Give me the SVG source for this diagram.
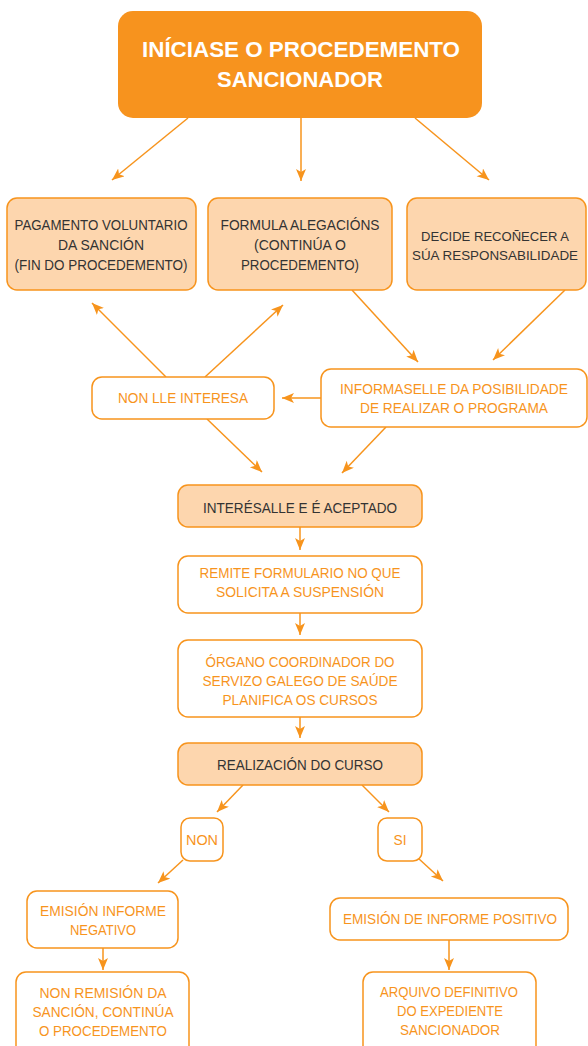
<svg xmlns="http://www.w3.org/2000/svg" width="588" height="1046" viewBox="0 0 588 1046">
<style>
.t{font-family:"Liberation Sans",Arial,sans-serif;font-size:15px;text-anchor:middle}
.s{font-size:13.5px}
.o{fill:#F7941D}
.d{fill:#333333}
.w{fill:#ffffff;stroke:#F7941D;stroke-width:1.5}
.p{fill:#FDD6AE;stroke:#F7941D;stroke-width:1.5}
.c{stroke:#F7941D;stroke-width:1.5;fill:none;marker-end:url(#ah)}
.h{font-family:"Liberation Sans",Arial,sans-serif;font-size:22px;font-weight:bold;fill:#ffffff;text-anchor:middle}
</style>
<defs>
<marker id="ah" markerUnits="userSpaceOnUse" markerWidth="14" markerHeight="12" refX="12" refY="5" orient="auto">
<path d="M0,0 L12,5 L0,10 L3,5 z" fill="#F7941D"/>
</marker>
</defs>
<rect width="588" height="1046" fill="#ffffff"/>
<g id="connectors">
<line class="c" x1="188" y1="118" x2="112" y2="180"/>
<line class="c" x1="301" y1="118" x2="301" y2="181"/>
<line class="c" x1="415" y1="118" x2="489" y2="180"/>
<line class="c" x1="166" y1="377" x2="92" y2="303"/>
<line class="c" x1="205" y1="377" x2="283" y2="305"/>
<line class="c" x1="352" y1="290" x2="418" y2="362"/>
<line class="c" x1="565" y1="290" x2="493" y2="360"/>
<line class="c" x1="321" y1="398" x2="282" y2="398"/>
<line class="c" x1="207" y1="419" x2="262" y2="472"/>
<line class="c" x1="386" y1="427" x2="342" y2="473"/>
<line class="c" x1="300" y1="527" x2="300" y2="550"/>
<line class="c" x1="300" y1="613" x2="300" y2="635"/>
<line class="c" x1="300" y1="717" x2="300" y2="738"/>
<line class="c" x1="243" y1="785" x2="217" y2="812"/>
<line class="c" x1="362" y1="785" x2="389" y2="812"/>
<line class="c" x1="183" y1="860" x2="158" y2="883"/>
<line class="c" x1="418" y1="858" x2="443" y2="881"/>
<line class="c" x1="103" y1="948" x2="103" y2="970"/>
<line class="c" x1="449" y1="940" x2="449" y2="970"/>
</g>
<g id="start">
<rect x="118" y="11" width="364" height="107" rx="15" fill="#F7931E"/>
<text class="h" x="301" y="57" textLength="318" lengthAdjust="spacingAndGlyphs">INÍCIASE O PROCEDEMENTO</text>
<text class="h" x="300" y="87" textLength="166" lengthAdjust="spacingAndGlyphs">SANCIONADOR</text>
</g>
<g id="pagamento">
<rect class="p" x="7" y="198" width="189" height="92" rx="10"/>
<text class="t d" x="101" y="230" textLength="173" lengthAdjust="spacingAndGlyphs">PAGAMENTO VOLUNTARIO</text>
<text class="t d" x="101" y="250" textLength="86" lengthAdjust="spacingAndGlyphs">DA SANCIÓN</text>
<text class="t d" x="101" y="270" textLength="173" lengthAdjust="spacingAndGlyphs">(FIN DO PROCEDEMENTO)</text>
</g>
<g id="formula">
<rect class="p" x="208" y="198" width="184" height="92" rx="10"/>
<text class="t d" x="300" y="230" textLength="159" lengthAdjust="spacingAndGlyphs">FORMULA ALEGACIÓNS</text>
<text class="t d" x="300" y="250" textLength="92" lengthAdjust="spacingAndGlyphs">(CONTINÚA O</text>
<text class="t d" x="300" y="270" textLength="118" lengthAdjust="spacingAndGlyphs">PROCEDEMENTO)</text>
</g>
<g id="decide">
<rect class="p" x="407" y="198" width="179" height="92" rx="10"/>
<text class="t s d" x="495" y="241" textLength="148" lengthAdjust="spacingAndGlyphs">DECIDE RECOÑECER A</text>
<text class="t s d" x="495" y="260" textLength="166" lengthAdjust="spacingAndGlyphs">SÚA RESPONSABILIDADE</text>
</g>
<g id="nonlle">
<rect class="w" x="92" y="377" width="182" height="42" rx="10"/>
<text class="t o" x="183" y="403" textLength="130" lengthAdjust="spacingAndGlyphs">NON LLE INTERESA</text>
</g>
<g id="informaselle">
<rect class="w" x="321" y="369" width="266" height="58" rx="10"/>
<text class="t o" x="454" y="394" textLength="228" lengthAdjust="spacingAndGlyphs">INFORMASELLE DA POSIBILIDADE</text>
<text class="t o" x="454" y="413" textLength="188" lengthAdjust="spacingAndGlyphs">DE REALIZAR O PROGRAMA</text>
</g>
<g id="interesalle">
<rect class="p" x="178" y="485" width="244" height="42" rx="10"/>
<text class="t d" x="300" y="513" textLength="194" lengthAdjust="spacingAndGlyphs">INTERÉSALLE E É ACEPTADO</text>
</g>
<g id="remite">
<rect class="w" x="178" y="556" width="244" height="57" rx="10"/>
<text class="t o" x="300" y="578" textLength="201" lengthAdjust="spacingAndGlyphs">REMITE FORMULARIO NO QUE</text>
<text class="t o" x="300" y="597" textLength="168" lengthAdjust="spacingAndGlyphs">SOLICITA A SUSPENSIÓN</text>
</g>
<g id="organo">
<rect class="w" x="178" y="640" width="244" height="77" rx="10"/>
<text class="t o" x="300" y="667" textLength="189" lengthAdjust="spacingAndGlyphs">ÓRGANO COORDINADOR DO</text>
<text class="t o" x="300" y="686" textLength="195" lengthAdjust="spacingAndGlyphs">SERVIZO GALEGO DE SAÚDE</text>
<text class="t o" x="300" y="705" textLength="155" lengthAdjust="spacingAndGlyphs">PLANIFICA OS CURSOS</text>
</g>
<g id="realizacion">
<rect class="p" x="178" y="743" width="244" height="42" rx="10"/>
<text class="t d" x="300" y="770" textLength="166" lengthAdjust="spacingAndGlyphs">REALIZACIÓN DO CURSO</text>
</g>
<g id="non">
<rect class="w" x="181" y="818" width="42" height="43" rx="9"/>
<text class="t o" x="202" y="845" textLength="32" lengthAdjust="spacingAndGlyphs">NON</text>
</g>
<g id="si">
<rect class="w" x="378" y="818" width="44" height="43" rx="9"/>
<text class="t o" x="400" y="845" textLength="13" lengthAdjust="spacingAndGlyphs">SI</text>
</g>
<g id="negativo">
<rect class="w" x="27" y="891" width="151" height="57" rx="10"/>
<text class="t o" x="103" y="916" textLength="126" lengthAdjust="spacingAndGlyphs">EMISIÓN INFORME</text>
<text class="t o" x="103" y="935" textLength="66" lengthAdjust="spacingAndGlyphs">NEGATIVO</text>
</g>
<g id="positivo">
<rect class="w" x="330" y="898" width="238" height="42" rx="10"/>
<text class="t o" x="450" y="924" textLength="214" lengthAdjust="spacingAndGlyphs">EMISIÓN DE INFORME POSITIVO</text>
</g>
<g id="nonremision">
<rect class="w" x="16" y="972" width="173" height="90" rx="10"/>
<text class="t o" x="103" y="998" textLength="127" lengthAdjust="spacingAndGlyphs">NON REMISIÓN DA</text>
<text class="t o" x="103" y="1017" textLength="141" lengthAdjust="spacingAndGlyphs">SANCIÓN, CONTINÚA</text>
<text class="t o" x="103" y="1036" textLength="128" lengthAdjust="spacingAndGlyphs">O PROCEDEMENTO</text>
</g>
<g id="arquivo">
<rect class="w" x="363" y="972" width="173" height="90" rx="10"/>
<text class="t o" x="449" y="997" textLength="138" lengthAdjust="spacingAndGlyphs">ARQUIVO DEFINITIVO</text>
<text class="t o" x="450" y="1016" textLength="106" lengthAdjust="spacingAndGlyphs">DO EXPEDIENTE</text>
<text class="t o" x="450" y="1035" textLength="100" lengthAdjust="spacingAndGlyphs">SANCIONADOR</text>
</g>
</svg>
